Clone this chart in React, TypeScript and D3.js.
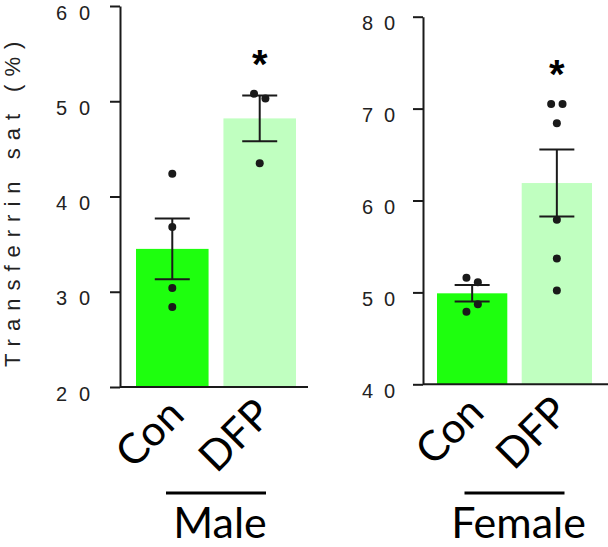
import React, { useEffect, useRef } from "react";
import * as d3 from "d3";

// groups and panels
const groups = ["Con", "DFP"];
const panels = ["Male", "Female"];
const yTitle = "Transferrin sat (%)";

// male panel
const maleMeans = [34.5, 48.2];
const maleSem = [3.2, 2.4];
const maleCon = [42.4, 36.8, 30.4, 28.4];
const maleDfp = [50.8, 50.3, 43.5];
const maleTicks = [20, 30, 40, 50, 60];

// female panel
const femaleMeans = [49.9, 61.9];
const femaleSem = [0.9, 3.65];
const femaleCon = [51.6, 51.1, 47.9, 48.7];
const femaleDfp = [70.5, 70.5, 68.4, 57.9, 53.7, 50.2];
const femaleTicks = [40, 50, 60, 70, 80];

const barColors = ["#1eff0e", "#c0ffc0"];
const ink = "#1a1a1a";

const W = 608;
const H = 547;
const R = 4;

// spread points with nearly equal values side by side
function dodge(vals: number[], y: (v: number) => number, gap: number) {
  const order = vals.map((v, i) => i).sort((a, b) => y(vals[a]) - y(vals[b]));
  const offs = vals.map(() => 0);
  let cluster: number[] = [];
  const flush = () => {
    const c = cluster.slice().sort((a, b) => a - b);
    const n = c.length;
    c.forEach((idx, k) => {
      offs[idx] = (k - (n - 1) / 2) * gap;
    });
    cluster = [];
  };
  order.forEach((idx, k) => {
    if (k > 0 && Math.abs(y(vals[idx]) - y(vals[order[k - 1]])) >= 2 * R + 1) flush();
    cluster.push(idx);
  });
  flush();
  return offs;
}

export default function App() {
  const svgRef = useRef<SVGSVGElement>(null);

  useEffect(() => {
    const svg = d3.select(svgRef.current);
    svg.selectAll("*").remove();

    const specs = [
      { name: panels[0], means: maleMeans, sem: maleSem, pts: [maleCon, maleDfp], ticks: maleTicks,
        axisX: 120, y0: 387, y1: 6, x0: 136, x1: 296, xEnd: 308, pad: 30, adv: 23 },
      { name: panels[1], means: femaleMeans, sem: femaleSem, pts: [femaleCon, femaleDfp], ticks: femaleTicks,
        axisX: 423, y0: 384.3, y1: 16.7, x0: 437, x1: 592, xEnd: 608, pad: 28, adv: 22 },
    ];

    specs.forEach((s) => {
      const g = svg.append("g");
      const y = d3.scaleLinear().domain(d3.extent(s.ticks) as [number, number]).range([s.y0, s.y1]);
      const x = d3.scaleBand<string>().domain(groups).range([s.x0, s.x1]).paddingInner(0.17);

      // bars
      g.selectAll("rect.bar").data(groups).enter().append("rect")
        .attr("x", (d) => x(d)!)
        .attr("width", x.bandwidth())
        .attr("y", (d, i) => y(s.means[i]))
        .attr("height", (d, i) => s.y0 - y(s.means[i]))
        .attr("fill", (d, i) => barColors[i]);

      groups.forEach((grp, i) => {
        const cx = x(grp)! + x.bandwidth() / 2;
        const hi = y(s.means[i] + s.sem[i]);
        const lo = y(s.means[i] - s.sem[i]);
        const eg = g.append("g").attr("stroke", ink).attr("stroke-width", 2);
        eg.append("line").attr("x1", cx).attr("x2", cx).attr("y1", hi).attr("y2", lo);
        eg.append("line").attr("x1", cx - 17.5).attr("x2", cx + 17.5).attr("y1", hi).attr("y2", hi);
        eg.append("line").attr("x1", cx - 17.5).attr("x2", cx + 17.5).attr("y1", lo).attr("y2", lo);

        const vals = s.pts[i];
        const offs = dodge(vals, y, 11.4);
        g.selectAll(null).data(vals).enter().append("circle")
          .attr("cx", (v, k) => cx + offs[k])
          .attr("cy", (v) => y(v))
          .attr("r", R)
          .attr("fill", ink);

        // group label
        g.append("text")
          .attr("transform", `translate(${cx + 14},${s.y0 + 30}) rotate(-45)`)
          .attr("text-anchor", "end")
          .attr("font-family", "Lato")
          .attr("font-size", 42)
          .attr("fill", "#000")
          .text(grp);
      });

      // significance star above DFP
      const dfpX = x(groups[1])! + x.bandwidth() / 2;
      const top = y(d3.max(s.pts[1])!);
      g.append("text")
        .attr("x", dfpX)
        .attr("y", top - 39 + 0.58 * 40)
        .attr("text-anchor", "middle")
        .attr("font-family", "Liberation Sans")
        .attr("font-weight", "bold")
        .attr("font-size", 40)
        .attr("fill", "#000")
        .text("*");

      // y axis
      const ax = d3.axisLeft(y).tickValues(s.ticks).tickSize(10).tickSizeOuter(0);
      const ag = g.append("g").attr("transform", `translate(${s.axisX},0)`).call(ax);
      ag.select(".domain").attr("stroke", ink).attr("stroke-width", 2);
      ag.selectAll(".tick line").attr("stroke", ink).attr("stroke-width", 2);
      ag.selectAll<SVGTextElement, number>(".tick text").each(function (d) {
        const t = d3.select(this);
        const digits = String(d).split("");
        t.text(null)
          .attr("font-family", "Liberation Sans")
          .attr("font-size", 20)
          .attr("text-anchor", "end")
          .attr("fill", "#222")
          .attr("dy", "0.65em");
        digits.forEach((ch, k) => {
          t.append("tspan").attr("x", -s.pad - (digits.length - 1 - k) * s.adv).text(ch);
        });
      });

      // baseline
      g.append("line").attr("x1", s.axisX).attr("x2", s.xEnd).attr("y1", s.y0).attr("y2", s.y0)
        .attr("stroke", ink).attr("stroke-width", 2);

      // sex bracket and label
      const mid = (x(groups[0])! + x(groups[1])! + x.bandwidth()) / 2;
      g.append("line").attr("x1", mid - 50).attr("x2", mid + 50).attr("y1", 493).attr("y2", 493)
        .attr("stroke", "#000").attr("stroke-width", 3);
      g.append("text")
        .attr("x", mid + 4)
        .attr("y", 538)
        .attr("text-anchor", "middle")
        .attr("font-family", "Lato")
        .attr("font-size", 43)
        .attr("fill", "#000")
        .text(s.name);
    });

    // y title
    svg.append("text")
      .attr("transform", "translate(20,367) rotate(-90)")
      .attr("font-family", "Liberation Sans")
      .attr("font-size", 22)
      .attr("letter-spacing", 8)
      .attr("fill", "#222")
      .text(yTitle);
  }, []);

  return (
    <svg ref={svgRef} width={W} height={H} style={{ position: "absolute", left: 0, top: 0, background: "#fff" }} />
  );
}
